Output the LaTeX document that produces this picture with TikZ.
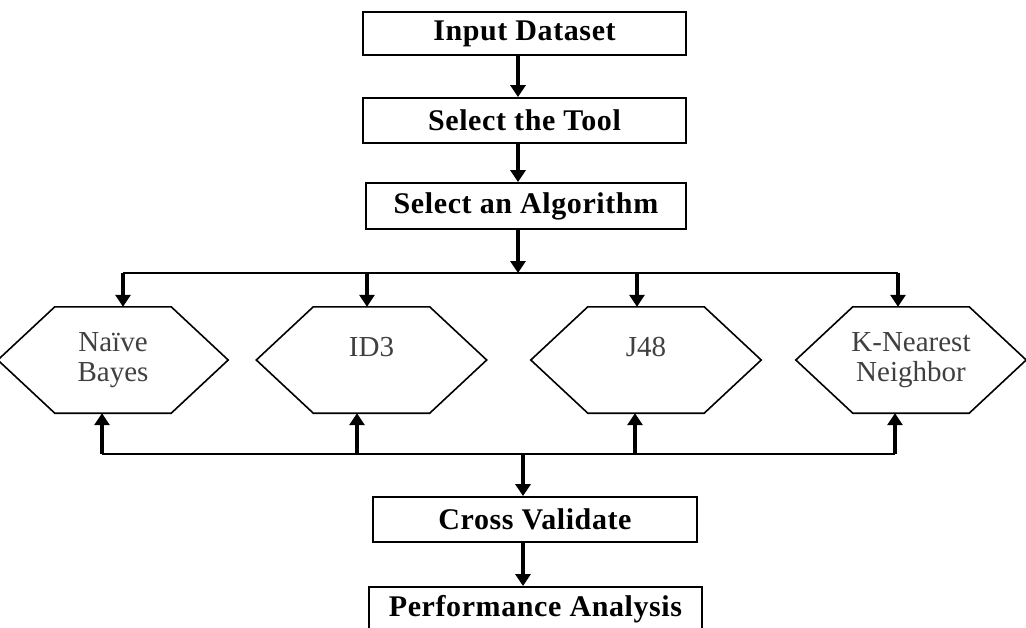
\documentclass[tikz,border=0pt]{standalone}
\usepackage{fontspec}
\setmainfont{Liberation Serif}
\usetikzlibrary{arrows.meta}
\begin{document}
\begin{tikzpicture}[x=1pt,y=-1pt,
  box/.style={draw, line width=1.8pt, inner sep=0pt, font=\fontsize{30}{32}\selectfont\bfseries\addfontfeature{LetterSpace=2}},
  hexnode/.style={inner sep=0pt, minimum width=230pt, minimum height=106pt, align=center, text=black!75, font=\fontsize{29}{30}\selectfont},
  hexline/.style={line width=1.6pt, line join=miter},
  arr/.style={line width=4pt, -{Triangle[length=12pt,width=15pt]}},
  bar/.style={line width=2pt}]
\clip (0,0) rectangle (1026,627);
\fill[white] (0,0) rectangle (1026,627);
% boxes
\node[box, minimum width=323pt, minimum height=43pt] (in) at (524.5,33.5) {Input Dataset};
\node[box, minimum width=323pt, minimum height=45pt] (tool) at (524.5,120.5) {Select the Tool};
\node[box, minimum width=320pt, minimum height=46pt] (alg) at (526,206) {Select an Algorithm};
\node[box, minimum width=324pt, minimum height=45pt] (cv) at (535,519.5) {Cross Validate};
\node[box, minimum width=333pt, minimum height=48pt, anchor=north] (pa) at (535.5,586) {\raisebox{10pt}{Performance Analysis}};
% hexagons
\node[hexnode] (nb) at (113,360) {\raisebox{-4pt}{Naïve}\\\raisebox{-4pt}{Bayes}};
\node[hexnode] (id3) at (371.5,360) {\raisebox{-3pt}{ID3}\\~};
\node[hexnode] (j48) at (646,360) {\raisebox{-3pt}{J48}\\~};
\node[hexnode] (knn) at (911,360) {\raisebox{-4pt}{K-Nearest}\\\raisebox{-4pt}{Neighbor}};
\foreach \n in {nb,id3,j48,knn}{
  \draw[hexline] (\n.west) -- ([xshift=57pt]\n.north west) -- ([xshift=-57pt]\n.north east) -- (\n.east) -- ([xshift=-57pt]\n.south east) -- ([xshift=57pt]\n.south west) -- cycle;
}
% top connectors
\coordinate (tm) at (518,273);
\coordinate (t1) at (123,273);
\coordinate (t2) at (367,273);
\coordinate (t3) at (637,273);
\coordinate (t4) at (898,273);
\draw[arr] ([xshift=-6.5pt]in.south) -- ([xshift=-6.5pt]tool.north);
\draw[arr] ([xshift=-6.5pt]tool.south) -- (alg.north -| tm);
\draw[arr] (alg.south -| tm) -- (tm);
\draw[bar] (t1) -- (t4);
\draw[arr] (t1) -- (t1 |- nb.north);
\draw[arr] (t2) -- (t2 |- id3.north);
\draw[arr] (t3) -- (t3 |- j48.north);
\draw[arr] (t4) -- (t4 |- knn.north);
% bottom connectors
\coordinate (bm) at (523,454);
\coordinate (b1) at (102,454);
\coordinate (b2) at (357,454);
\coordinate (b3) at (635,454);
\coordinate (b4) at (895,454);
\draw[bar] (b1) -- (b4);
\draw[arr] (b1) -- (b1 |- nb.south);
\draw[arr] (b2) -- (b2 |- id3.south);
\draw[arr] (b3) -- (b3 |- j48.south);
\draw[arr] (b4) -- (b4 |- knn.south);
\draw[arr] (bm) -- (bm |- cv.north);
\draw[arr] (cv.south -| bm) -- (pa.north -| bm);
\end{tikzpicture}
\end{document}
